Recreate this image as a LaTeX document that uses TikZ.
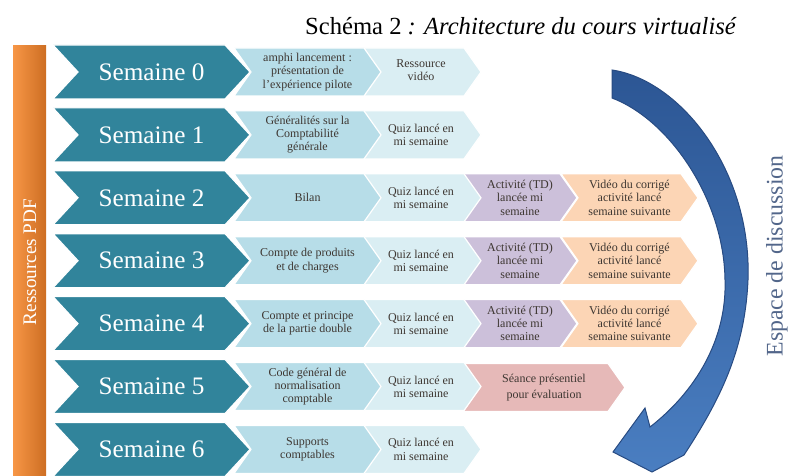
\documentclass[tikz,border=0pt]{standalone}
\usepackage{fontspec}
\setmainfont{Liberation Serif}
\usepackage{tikz}
\usetikzlibrary{positioning}
\definecolor{weekteal}{RGB}{49,132,155}
\definecolor{topicblue}{RGB}{183,221,232}
\definecolor{quizblue}{RGB}{218,238,243}
\definecolor{tdpurple}{RGB}{204,192,218}
\definecolor{videoorange}{RGB}{252,213,181}
\definecolor{evalpink}{RGB}{230,185,184}
\definecolor{pdforange}{RGB}{247,150,70}
\definecolor{pdfdark}{RGB}{205,110,35}
\definecolor{arrowblue}{RGB}{74,126,193}
\definecolor{arrowdark}{RGB}{44,86,148}
\definecolor{arrowedge}{RGB}{40,75,130}
\definecolor{discblue}{RGB}{82,102,138}
\definecolor{inkgray}{RGB}{62,55,50}

% chevron: style, left x, tip x, centre y, half height, notch depth
\newcommand{\chevron}[6]{%
  \filldraw[draw=white,line width=0.6pt,#1] (#2,#4-#5) -- (#3-#6,#4-#5) -- (#3,#4)
    -- (#3-#6,#4+#5) -- (#2,#4+#5) -- (#2+#6,#4) -- cycle;}

\tikzset{
  weektxt/.style={text=white,font=\fontsize{12.6}{14}\selectfont},
  smalltxt/.style={text=inkgray,align=center,inner sep=0pt,font=\fontsize{6}{6.6}\selectfont},
}

\begin{document}
\begin{tikzpicture}[x=0.5pt,y=-0.5pt]
  \useasboundingbox (0,0) rectangle (793,476);

  % title
  \node[anchor=base,font=\fontsize{12.3}{14}\selectfont] (title) at (521,35)
    {Schéma 2 \textit{: Architecture du cours virtualisé}};

  % PDF bar
  \shade[left color=pdforange,right color=pdfdark] (13,46) rectangle (46,476);
  \node[rotate=90,text=white,font=\fontsize{9.6}{11}\selectfont] (pdf) at (30,262) {Ressources PDF};

  % video and TD columns
  \foreach \i in {2,3,4} {
    \pgfmathsetmacro\y{72+62.9*\i}
    \chevron{fill=videoorange}{561}{698}{\y}{24}{17}
    \node[smalltxt] (v\i) at (629.5,\y) {Vidéo du corrigé\\activité lancé\\semaine suivante};
    \chevron{fill=tdpurple}{463}{577}{\y}{24}{17}
    \node[smalltxt] (a\i) at (520,\y) {Activité (TD)\\lancée mi\\semaine};
  }
  \chevron{fill=evalpink}{463}{625}{387.5}{24}{17}
  \node[smalltxt,font=\fontsize{6}{8}\selectfont] (s5) at (544,387.5) {Séance présentiel\\pour évaluation};

  % quiz column
  \chevron{fill=quizblue}{361}{481}{72}{24}{17}
  \node[smalltxt] (r0) at (421,70) {Ressource\\vidéo};
  \foreach \i in {1,...,6} {
    \pgfmathsetmacro\y{72+62.9*\i}
    \chevron{fill=quizblue}{361}{481}{\y}{24}{17}
    \node[smalltxt] (q\i) at (421,\y) {Quiz lancé en\\mi semaine};
  }

  % topics
  \foreach \i/\topic in {0/{amphi lancement :\\présentation de\\l'expérience pilote},
      1/{Généralités sur la\\Comptabilité\\générale}, 2/{Bilan},
      3/{Compte de produits\\et de charges}, 4/{Compte et principe\\de la partie double},
      5/{Code général de\\normalisation\\comptable}, 6/{Supports\\comptables}} {
    \pgfmathsetmacro\y{72+62.9*\i}
    \chevron{fill=topicblue}{234}{381}{\y}{24}{17}
    \node[smalltxt] (t\i) at (307.5,\y) {\topic};
  }

  % weeks
  \foreach \i in {0,...,6} {
    \pgfmathsetmacro\y{72+62.9*\i}
    \chevron{fill=weekteal}{53}{250}{\y}{27}{25}
    \node[weektxt] (w\i) at (151.5,\y) {Semaine \i};
  }

  % discussion arrow
  \shadedraw[top color=arrowdark,bottom color=arrowblue,draw=arrowedge,line width=0.5pt]
    (612,70) .. controls (680,80) and (752,170) .. (748,280)
    .. controls (745,350) and (720,400) .. (684,455)
    -- (652,472) -- (613,452) -- (645,408) -- (650,427)
    .. controls (695,392) and (727,340) .. (725,280)
    .. controls (724,200) and (670,120) .. (612,98) -- cycle;
  \node[rotate=90,text=discblue,font=\fontsize{11.9}{14}\selectfont] (disc) at (777,256) {Espace de discussion};
\end{tikzpicture}
\end{document}
